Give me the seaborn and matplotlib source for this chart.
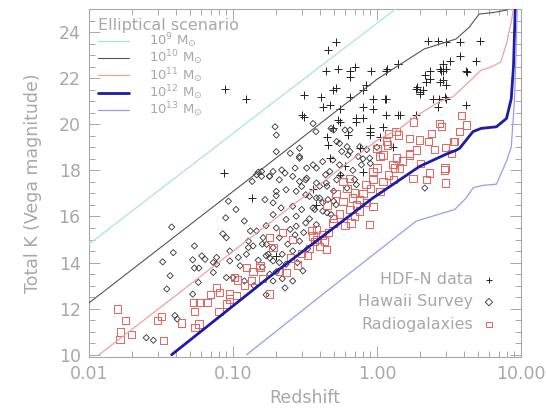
import matplotlib
matplotlib.use("Agg")
import matplotlib.pyplot as plt
import seaborn as sns
import numpy as np
import pandas as pd

# ---------------- data ----------------
# model tracks (log10 redshift, K magnitude)
m9_logz = [-2.0, -0.5, 0.13, 0.2]
m9_K = [14.8, 22.0, 25.0, 25.35]

m10_logz = [-2.0, -0.8, 0.0, 0.33, 0.55, 0.64, 0.71, 0.81, 0.9, 0.95]
m10_K = [12.25, 18.05, 21.95, 23.27, 23.7, 24.2, 24.78, 24.85, 24.95, 25.5]

m11_logz = [-1.93, -0.67, 0.0, 0.16, 0.28, 0.44, 0.53, 0.65, 0.72, 0.80, 0.86, 0.90, 0.935, 0.955]
m11_K = [10.0, 16.08, 19.3, 19.82, 20.39, 21.0, 21.2, 21.9, 22.33, 22.5, 22.7, 23.5, 24.5, 25.3]

m12_logz = [-1.426, -0.722, -0.028, 0.296, 0.48, 0.55, 0.575, 0.667, 0.724, 0.83, 0.9, 0.933, 0.949, 0.96, 0.965]
m12_K = [10.0, 13.5, 16.8, 18.17, 18.7, 18.87, 18.96, 19.68, 19.82, 19.89, 20.25, 21.1, 22.55, 24.85, 25.3]

m13_logz = [-0.905, -0.375, 0.273, 0.54, 0.62, 0.67, 0.74, 0.83, 0.9, 0.933, 0.956, 0.967, 0.975]
m13_K = [10.0, 12.63, 15.8, 16.3, 16.8, 17.25, 17.35, 17.4, 18.4, 19.0, 21.1, 23.3, 25.2]

mass_labels = [r"10$^{9}$ M$_{\odot}$", r"10$^{10}$ M$_{\odot}$", r"10$^{11}$ M$_{\odot}$",
               r"10$^{12}$ M$_{\odot}$", r"10$^{13}$ M$_{\odot}$"]

# HDF-N data
hdf_z = [0.088, 0.124, 0.086, 0.135,
         0.52, 0.457, 0.445, 0.537, 0.646, 0.70, 0.646, 0.912, 1.16, 1.40,
         0.31, 0.41, 0.494, 0.52, 0.646, 0.80, 0.84, 0.94, 1.16,
         0.31, 0.42, 0.47, 0.55, 0.80, 0.94, 1.16, 1.44, 1.87,
         0.55, 0.72, 0.89, 0.494, 0.45, 0.63, 0.89, 1.05,
         2.26, 2.65, 3.02, 3.75, 5.16, 2.87, 2.80, 2.32, 3.0, 3.75, 4.9, 4.17,
         2.2, 2.87, 3.02, 1.87, 1.98, 2.72, 3.02, 4.17, 2.45,
         0.30, 0.54, 0.72, 1.1, 0.46, 0.47, 0.80, 0.89, 0.76, 0.55, 0.80,
         4.2, 2.97, 2.09, 1.89, 2.0, 2.33, 2.73, 2.88, 3.21, 2.15, 2.74,
         1.41, 1.17, 1.14, 1.40, 2.67, 0.2, 0.38, 0.6, 1.3, 0.36]
hdf_K = [21.54, 21.1, 17.88, 16.8,
         23.55, 23.2, 22.33, 22.4, 22.33, 22.48, 22.05, 22.33, 22.33, 22.62,
         21.25, 21.18, 21.47, 21.57, 21.18, 21.47, 21.69, 21.1, 21.1,
         20.32, 20.75, 20.82, 20.68, 20.75, 20.68, 20.39, 20.39, 20.39,
         20.1, 20.1, 19.82, 19.82, 19.46, 19.53, 19.53, 19.46,
         23.63, 23.63, 23.55, 23.58, 23.63, 22.62, 22.33, 22.33, 22.4, 22.98, 22.76, 22.33,
         21.83, 21.9, 21.69, 21.54, 21.4, 21.1, 21.1, 20.82, 21.1,
         20.39, 20.18, 20.25, 19.9, 19.1, 18.53, 20.25, 19.68, 18.96, 17.8, 17.95,
         22.26, 21.18, 21.47, 21.62, 21.33, 21.97, 21.83, 22.33, 22.76, 22.12, 22.4,
         22.62, 22.4, 21.1, 20.39, 20.75, 14.3, 16.5, 18.2, 19.0, 17.2]

# Hawaii Survey
haw_z = [0.025, 0.028, 0.0395, 0.041,
         0.0375, 0.0385, 0.0325, 0.0366, 0.0347,
         0.054, 0.0525, 0.054, 0.058, 0.0607, 0.064, 0.0575, 0.0525,
         0.073, 0.077, 0.073, 0.093, 0.089, 0.085, 0.09, 0.095, 0.095, 0.09, 0.10,
         0.109, 0.112, 0.128, 0.128, 0.138, 0.136, 0.158, 0.179, 0.15, 0.167,
         0.146, 0.162, 0.171, 0.176, 0.146, 0.132, 0.077, 0.124,
         0.196, 0.2, 0.158, 0.218, 0.29, 0.29, 0.36, 0.377, 0.27, 0.325, 0.38,
         0.5, 0.6, 0.65, 0.55, 0.62, 0.76, 0.74, 0.78, 0.55, 0.63, 0.18, 0.47,
         0.48, 0.525, 0.57, 0.65, 0.80, 0.89, 0.36, 0.325, 0.38, 0.44, 0.45, 0.525,
         0.62, 0.72, 0.34, 0.40, 0.50, 2.15, 0.30, 0.37, 0.45,
         0.2, 0.25, 0.29, 0.42, 0.494, 0.19, 0.21, 0.23, 0.26, 0.29, 0.32, 0.40, 0.445,
         0.2, 0.234, 0.275, 0.32, 0.38, 0.457, 0.52, 0.19, 0.216, 0.26, 0.36, 0.42, 0.48,
         0.19, 0.234, 0.275, 0.32, 0.38, 0.2, 0.25, 0.275, 0.21, 0.29, 0.19, 0.22, 0.26,
         0.19, 0.234, 0.306,
         0.15, 0.16, 0.17, 0.18, 0.19, 0.17, 0.14, 0.12, 0.2, 0.22, 0.16, 0.18, 0.21,
         0.24, 0.27, 0.31, 0.34, 0.42, 0.5, 0.56, 0.68, 0.85, 1.0, 0.26, 0.23, 0.28,
         0.33, 0.12, 0.105, 0.2, 0.17, 0.3, 0.7, 0.9]
haw_K = [10.74, 10.63, 11.7, 11.55,
         15.54, 14.43, 14.03, 13.43, 12.85,
         14.72, 14.12, 13.76, 13.76, 14.29, 14.14, 13.14, 12.63,
         14.0, 14.22, 13.57, 16.66, 15.94, 15.25, 15.08, 14.5, 14.07, 13.35, 13.35,
         14.22, 13.86, 14.93, 14.65, 14.72, 17.52, 17.74, 17.74, 17.92, 16.73,
         15.37, 15.08, 14.79, 14.36, 17.81, 15.37, 13.93, 14.36,
         19.89, 19.53, 17.95, 18.02, 18.96, 18.6, 20.03, 19.68, 18.1, 18.1, 18.1,
         19.75, 19.75, 19.75, 19.17, 19.03, 19.03, 18.6, 18.24, 18.24, 18.67, 17.74, 17.95,
         19.82, 19.25, 18.82, 18.82, 18.5, 18.53, 18.24, 17.66, 17.45, 17.81, 17.31, 17.59,
         17.23, 17.38, 16.87, 16.8, 16.66, 17.23, 16.3, 16.3, 16.16,
         18.81, 18.74, 18.53, 18.38, 18.45, 17.95, 17.59, 17.88, 17.74, 17.52, 17.59, 17.31, 17.45,
         17.09, 17.16, 17.09, 16.94, 16.8, 16.73, 16.51, 16.59, 16.37, 16.44, 16.37, 16.23, 16.08,
         16.08, 15.87, 16.01, 15.72, 15.65, 15.5, 15.44, 15.58, 15.08, 14.93, 14.65, 14.36, 14.5,
         14.07, 13.93, 13.64,
         14.1, 13.8, 14.3, 13.5, 13.2, 12.6, 13.0, 13.2, 13.6, 13.3, 14.8, 14.2, 14.0,
         14.8, 15.2, 15.3, 15.9, 16.6, 17.1, 17.8, 18.0, 18.9, 19.0, 13.2, 12.9, 14.0,
         14.6, 15.8, 16.3, 16.9, 15.6, 17.3, 17.6, 18.3]

# Radiogalaxies
rad_z = [0.0157, 0.018, 0.0166, 0.0164, 0.0198, 0.0328, 0.030, 0.032, 0.044, 0.053, 0.059,
         0.066, 0.054, 0.0545, 0.058, 0.08, 0.095,
         0.077, 0.081, 0.095, 0.106, 0.107, 0.135, 0.138, 0.154, 0.179,
         0.234, 0.445, 0.433, 0.38, 0.36, 0.494, 0.66, 0.89, 0.76, 0.94, 0.58, 0.70, 0.68, 0.76,
         0.94, 1.1, 1.05, 1.29, 1.44, 1.1, 1.68, 1.78, 2.2, 2.32, 2.95, 3.0, 3.28,
         0.58, 0.646, 0.84, 0.94, 1.05,
         1.79, 2.73, 2.27, 3.39, 1.89, 1.69, 1.41, 1.17, 1.0, 1.37, 1.69, 2.97, 1.33, 1.0,
         3.86, 2.8, 4.17, 3.75, 3.47, 1.98, 1.36, 1.19,
         0.103, 0.124, 0.18, 0.19, 0.154,
         0.34, 0.37, 0.40, 0.38, 0.42, 0.35, 0.30, 0.28, 0.33, 0.46, 0.5, 0.55, 0.6, 0.65,
         0.72, 0.8, 0.85, 1.2, 1.5, 2.0, 2.5, 3.0, 1.2, 2.4, 0.25, 0.21, 0.12, 0.09, 0.07,
         0.16, 0.45, 0.52, 0.62, 0.7, 0.9, 1.3, 0.26, 0.22]
rad_K = [11.99, 11.49, 10.98, 10.65, 10.88, 10.63, 11.49, 11.67, 11.38, 12.28, 12.28,
         12.28, 11.89, 11.17, 11.34, 11.89, 12.42,
         12.92, 12.7, 12.63, 12.56, 13.24, 13.21, 13.61, 13.78, 12.63,
         13.57, 14.57, 14.93, 15.44, 15.15, 15.72, 15.72, 15.65, 16.23, 16.44, 16.66, 17.02, 16.8, 16.73,
         17.59, 17.52, 17.09, 18.24, 18.1, 18.67, 18.74, 17.66, 17.59, 17.88, 18.02, 17.45, 18.74,
         17.52, 17.66, 17.38, 17.95, 18.6,
         20.1, 20.03, 19.25, 19.25, 18.89, 19.39, 19.53, 19.25, 18.96, 18.53, 18.67, 18.1, 18.1, 18.1,
         20.39, 19.9, 19.96, 19.68, 19.25, 19.32, 19.68, 19.1,
         13.35, 13.78, 15.08, 14.65, 13.86,
         14.6, 14.9, 14.7, 15.0, 15.2, 15.4, 14.4, 13.9, 14.3, 15.3, 15.9, 16.1, 15.6, 16.3,
         16.5, 17.0, 16.6, 17.8, 18.4, 18.3, 18.9, 19.0, 19.6, 19.6, 14.2, 13.6, 13.0, 12.2, 12.6,
         13.3, 16.5, 17.0, 17.2, 16.0, 17.2, 17.6, 15.0, 15.3]

legend2_labels = ["HDF-N data", "Hawaii Survey", "Radiogalaxies"]
xticks = [0.01, 0.1, 1.0, 10.0]
xtick_labels = ["0.01", "0.10", "1.00", "10.00"]
yticks = [10, 12, 14, 16, 18, 20, 22, 24]

# ---------------- plot ----------------
sns.set_theme(style="white")
plt.rcParams["font.family"] = ["DejaVu Sans"]
GRAY = "#a8a8a8"

fig = plt.figure(figsize=(5.46, 4.09), dpi=100)
ax = fig.add_axes([0.163, 0.127, 0.791, 0.851])
ax.set_xscale("log")

# scatter points
sns.scatterplot(x=hdf_z, y=hdf_K, marker="+", s=40, color="#222222", linewidth=0.7,
                ax=ax, label=legend2_labels[0], zorder=3)
sns.scatterplot(x=haw_z, y=haw_K, marker="D", s=10, facecolor="none", edgecolor="#333333",
                linewidth=0.6, ax=ax, label=legend2_labels[1], zorder=3)
sns.scatterplot(x=rad_z, y=rad_K, marker="s", s=28, facecolor="none", edgecolor="#e8625c",
                linewidth=0.7, ax=ax, label=legend2_labels[2], zorder=3)

tracks = [(m9_logz, m9_K, "#a6e6dc", 0.9),
          (m10_logz, m10_K, "#555555", 0.8),
          (m11_logz, m11_K, "#f0a0a0", 0.9),
          (m12_logz, m12_K, "#1c1ca8", 2.0),
          (m13_logz, m13_K, "#9a9af0", 0.9)]
line_handles = []
for (lz, kk, col, lw), lab in zip(tracks, mass_labels):
    df = pd.DataFrame({"z": 10 ** np.array(lz), "K": kk})
    sns.lineplot(data=df, x="z", y="K", color=col, linewidth=lw, ax=ax, sort=False,
                 estimator=None, legend=False, zorder=4)
    line_handles.append(plt.Line2D([], [], color=col, linewidth=lw, label=lab))

ax.set_xlim(0.01, 10)
ax.set_ylim(9.9, 25.0)
ax.set_xticks(xticks)
ax.set_xticklabels(xtick_labels)
ax.set_yticks(yticks)
ax.yaxis.set_minor_locator(matplotlib.ticker.MultipleLocator(0.5))
ax.xaxis.set_minor_locator(matplotlib.ticker.LogLocator(base=10, subs=np.arange(2, 10)))
ax.xaxis.set_minor_formatter(matplotlib.ticker.NullFormatter())
ax.tick_params(which="both", direction="in", top=True, right=True, bottom=True, left=True,
               color=GRAY, labelcolor=GRAY, labelsize=12.5, width=0.7)
ax.tick_params(which="major", length=8, pad=6)
ax.tick_params(which="minor", length=4)
for sp in ax.spines.values():
    sp.set_color(GRAY)
    sp.set_linewidth(0.8)

ax.set_xlabel("Redshift", color=GRAY, fontsize=12.5, labelpad=4)
ax.set_ylabel("Total K (Vega magnitude)", color=GRAY, fontsize=12.5, labelpad=12)

# legends
h, l = ax.get_legend_handles_labels()
leg1 = ax.legend(handles=line_handles, loc="upper left", title="Elliptical scenario",
                 frameon=False, fontsize=9.5, title_fontsize=11.5, handlelength=2.4,
                 handletextpad=1.5, labelspacing=-0.1, borderaxespad=0.4,
                 borderpad=0.25, alignment="left")
for t in leg1.get_texts():
    t.set_color(GRAY)
leg1.get_title().set_color(GRAY)
ax.add_artist(leg1)

leg2 = ax.legend(handles=h, labels=l, loc="lower right", markerfirst=False, frameon=False,
                 fontsize=11.5, handlelength=0.8, handletextpad=0.6, labelspacing=0.45,
                 borderaxespad=1.2)
for t in leg2.get_texts():
    t.set_color(GRAY)
for hh in leg2.legend_handles:
    try:
        hh.set_sizes([14])
    except Exception:
        pass

fig.savefig("out.png", dpi=100)
